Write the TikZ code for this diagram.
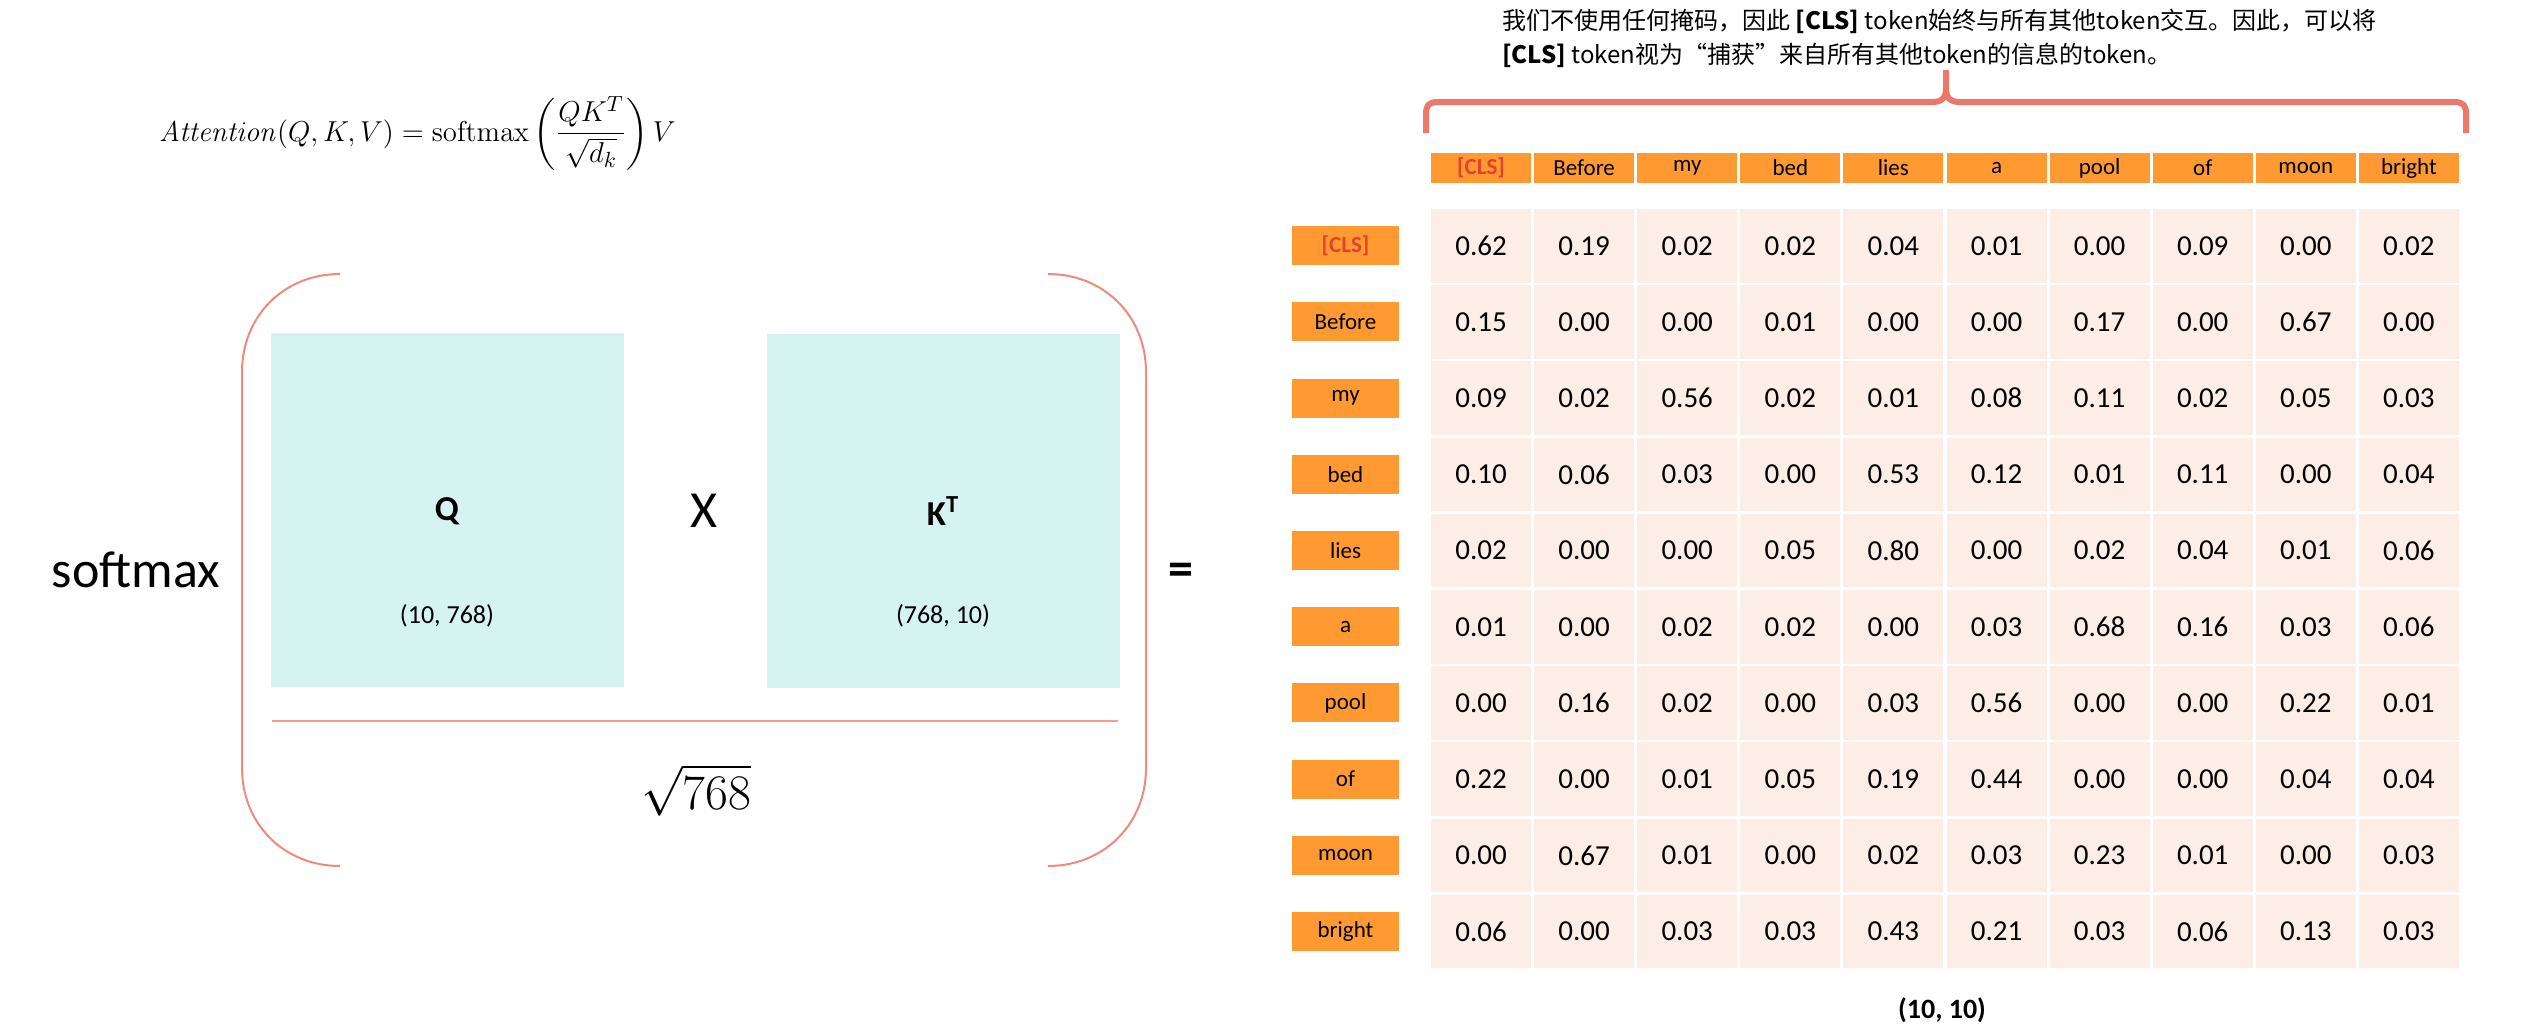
\documentclass[tikz,border=0pt]{standalone}
\usepackage{amsmath,amssymb}
\usepackage[no-math]{fontspec}
\setmainfont{Carlito}
\newfontfamily\cjk{Noto Sans CJK SC}
\usepackage{xcolor}
\usepackage{tikz}
\usetikzlibrary{positioning,calc}
\definecolor{cnaranja}{HTML}{FF9A33}
\definecolor{crosa}{HTML}{FDEDE7}
\definecolor{cmenta}{HTML}{D5F4F1}
\definecolor{csalmon}{HTML}{F08A7C}
\definecolor{cllave}{HTML}{EC786A}
\definecolor{crojo}{HTML}{E5412D}
\tikzset{
  celda/.style={rectangle, fill=crosa, inner sep=0pt, minimum width=50pt,
    minimum height=36.75pt, font=\fontsize{14.5}{16}\selectfont},
  cab/.style={rectangle, fill=cnaranja, inner sep=0pt, minimum width=50pt,
    minimum height=15pt, font=\fontsize{11.5}{13}\selectfont},
  etiq/.style={rectangle, fill=cnaranja, inner sep=0pt, minimum width=53.5pt,
    minimum height=19.5pt, font=\fontsize{11.5}{13}\selectfont},
  matriz/.style={rectangle, fill=cmenta, inner sep=0pt, minimum width=176.5pt,
    minimum height=177pt},
  parent/.style={draw=csalmon, line width=1pt},
  llave/.style={draw=cllave, line width=3pt, line join=round},
}
\newcommand{\clstxt}{\textcolor{crojo}{\textbf{[CLS]}}}

\begin{document}
\begin{tikzpicture}[x=0.5pt,y=-0.5pt]
  \useasboundingbox (0,0) rectangle (2548,1028);
  \node[anchor=base west, font=\fontsize{15}{18}\selectfont] (formula) at (152,141)
    {$\mathit{Attention}(Q,K,V)=\mathrm{softmax}\left(\dfrac{QK^{T}}{\sqrt{d_k}}\right)V$};
  \node[anchor=base, font=\fontsize{26}{30}\selectfont] (softmax) at (136,587) {softmax};
  \node[matriz] (q) at (447.5,510) {};
  \node[matriz] (k) at (943,511) {};
  \node[font=\bfseries\fontsize{17.5}{20}\selectfont] (qlab) at (447,511) {Q};
  \node[font=\fontsize{13}{15}\selectfont] (qdim) at (447,616) {(10, 768)};
  \node[font=\bfseries\fontsize{17.5}{20}\selectfont] (klab) at (943,511) {K\textsuperscript{T}};
  \node[font=\fontsize{13}{15}\selectfont] (kdim) at (943,616) {(768, 10)};
  \node[font=\fontsize{26}{30}\selectfont] (por) at (704,511) {X};
  \coordinate (raya-i) at (272,721);
  \coordinate (raya-d) at (1118,721);
  \draw[draw=csalmon!85, line width=1pt] (raya-i) -- (raya-d);
  \node[font=\fontsize{24}{28}\selectfont] (raiz) at (696,790) {$\sqrt{768}$};
  \draw[parent] (340,274) .. controls (284,274) and (242,316) .. (242,372) -- (242,768)
    .. controls (242,824) and (284,866) .. (340,866);
  \draw[parent] (1048,274) .. controls (1104,274) and (1146,316) .. (1146,372) -- (1146,768)
    .. controls (1146,824) and (1104,866) .. (1048,866);
  \node[font=\bfseries\fontsize{25}{28}\selectfont] (igual) at (1181,574) {=};

  \node[anchor=north west, align=left, font=\cjk\fontsize{12}{17}\selectfont] (nota) at (1495,2)
    {我们不使用任何掩码，因此 \textbf{[CLS]} token始终与所有其他token交互。因此，可以将\\
     \textbf{[CLS]} token视为“捕获”来自所有其他token的信息的token。};
  \draw[llave] (1426,133) -- (1426,114) .. controls (1426,105) and (1429,102) .. (1438,102)
    -- (1932,102) .. controls (1942,102) and (1946,98) .. (1946,88) -- (1946,70);
  \draw[llave] (2466,133) -- (2466,114) .. controls (2466,105) and (2463,102) .. (2454,102)
    -- (1960,102) .. controls (1950,102) and (1946,98) .. (1946,88);

  \foreach \t [count=\i from 0] in {\clstxt,Before,my,bed,lies,a,pool,of,moon,bright}{
    \node[cab] (h-\i) at ({1481+103.1*\i},168) {\t};
    \node[etiq] (r-\i) at (1345.5,{245.75+76.2*\i}) {\t};
  }
  \foreach \fila [count=\j from 0] in {
    {0.62,0.19,0.02,0.02,0.04,0.01,0.00,0.09,0.00,0.02},
    {0.15,0.00,0.00,0.01,0.00,0.00,0.17,0.00,0.67,0.00},
    {0.09,0.02,0.56,0.02,0.01,0.08,0.11,0.02,0.05,0.03},
    {0.10,0.06,0.03,0.00,0.53,0.12,0.01,0.11,0.00,0.04},
    {0.02,0.00,0.00,0.05,0.80,0.00,0.02,0.04,0.01,0.06},
    {0.01,0.00,0.02,0.02,0.00,0.03,0.68,0.16,0.03,0.06},
    {0.00,0.16,0.02,0.00,0.03,0.56,0.00,0.00,0.22,0.01},
    {0.22,0.00,0.01,0.05,0.19,0.44,0.00,0.00,0.04,0.04},
    {0.00,0.67,0.01,0.00,0.02,0.03,0.23,0.01,0.00,0.03},
    {0.06,0.00,0.03,0.03,0.43,0.21,0.03,0.06,0.13,0.03}}{
    \foreach \v [count=\i from 0] in \fila
      \node[celda] (c-\j-\i) at ({1481+103.1*\i},{245.75+76.2*\j}) {\v};
  }
  \node[font=\bfseries\fontsize{14}{16}\selectfont] (dim) at (1942,1010) {(10, 10)};
\end{tikzpicture}
\end{document}
